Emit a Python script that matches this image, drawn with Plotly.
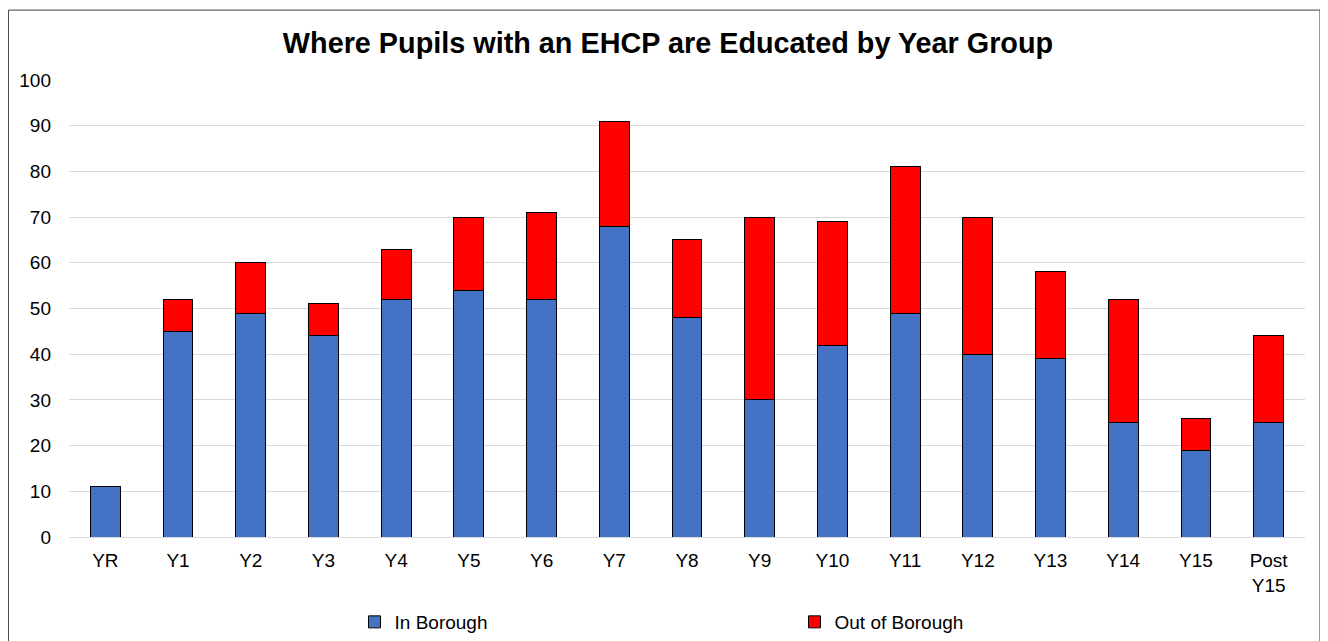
import plotly.graph_objects as go

categories = ["YR", "Y1", "Y2", "Y3", "Y4", "Y5", "Y6", "Y7", "Y8", "Y9",
              "Y10", "Y11", "Y12", "Y13", "Y14", "Y15", "Post<br>Y15"]
in_borough = [11, 45, 49, 44, 52, 54, 52, 68, 48, 30, 42, 49, 40, 39, 25, 19, 25]
out_of_borough = [0, 7, 11, 7, 11, 16, 19, 23, 17, 40, 27, 32, 30, 19, 27, 7, 19]
y_ticks = list(range(0, 101, 10))

FONT = "Liberation Sans, Arial, sans-serif"

fig = go.Figure()
fig.add_trace(go.Bar(
    x=categories, y=in_borough, name="In Borough",
    marker=dict(color="#4472C4", line=dict(color="#000000", width=1)),
))
fig.add_trace(go.Bar(
    x=categories, y=out_of_borough, name="Out of Borough",
    marker=dict(color="#FF0000", line=dict(color="#000000", width=1)),
))

fig.update_layout(
    barmode="stack",
    bargap=0.59,
    width=1320, height=633,
    margin=dict(l=61, r=23, t=72, b=104, autoexpand=False),
    paper_bgcolor="white", plot_bgcolor="white",
    font=dict(family=FONT, size=19, color="#000000"),
    title=dict(text="<b>Where Pupils with an EHCP are Educated by Year Group</b>",
               x=0.5, xanchor="center", y=0.945, yanchor="middle",
               font=dict(family=FONT, size=28.8, color="#000000")),
    showlegend=True,
    legend=dict(orientation="h", x=0.231, xanchor="left",
                yref="container", y=0.03, yanchor="middle",
                entrywidth=395, font=dict(family=FONT, size=19), itemwidth=30,
                traceorder="normal", bgcolor="rgba(0,0,0,0)"),
    xaxis=dict(showgrid=False, showline=False, ticks="", tickfont=dict(size=19),
               ticklabelstandoff=10, automargin=False),
    yaxis=dict(range=[0, 100], tickvals=y_ticks, showgrid=True, gridcolor="#d9d9d9",
               gridwidth=1, zeroline=True, zerolinecolor="#d9d9d9", zerolinewidth=1,
               showline=False, ticks="", tickfont=dict(size=19), ticklabelstandoff=17,
               automargin=False),
    shapes=[dict(type="rect", xref="paper", yref="paper",
                 x0=-0.049, x1=1.0121, y0=-0.26, y1=1.153,
                 line=dict(color="#404040", width=1), layer="below")],
)

fig.write_html("out.html")
